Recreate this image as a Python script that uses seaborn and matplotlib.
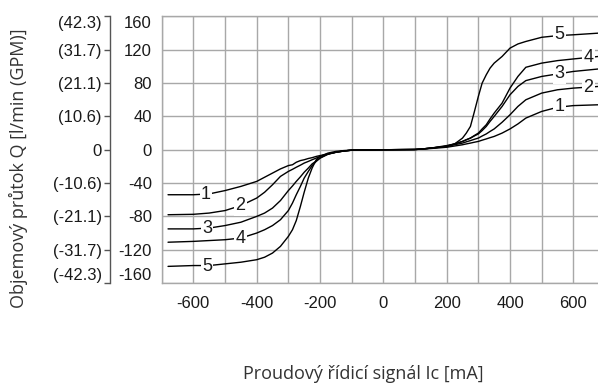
import pandas as pd
import matplotlib
matplotlib.use("Agg")
import matplotlib.pyplot as plt
import seaborn as sns

sns.set_theme(style="white")
plt.rcParams['font.family'] = ['Liberation Sans', 'DejaVu Sans']

# Control current Ic [mA] (shared grid for all curves)
ic_ma = [-680, -600, -550, -500, -450, -400, -375, -350, -325, -300, -287, -275, -262,
         -250, -237, -225, -212, -200, -175, -150, -125, -100, 0, 100, 125, 150, 175,
         200, 225, 250, 262, 275, 287, 300, 312, 325, 337, 350, 375, 400, 425, 450,
         500, 550, 600, 680]

# Flow Q [l/min] for curves 1..5
q1 = [-54, -54, -53, -49, -44, -38, -33, -28, -23, -19, -18, -15, -13,
      -12, -10.5, -9.5, -8, -7, -5, -3, -1.5, -0.5, 0, 0.3, 0.8, 1.5, 2.2,
      3, 4.5, 6, 7, 8, 9, 10, 11.5, 13, 14.5, 16, 20, 25, 31, 38,
      46, 51, 53, 54]
q2 = [-78, -77.5, -76, -73, -67, -58, -51, -42, -32, -26, -23.5, -21, -18.5,
      -16, -14, -12, -10, -8, -5, -3, -1.5, -0.5, 0, 0.3, 1, 2, 3,
      4, 6, 8, 9.5, 11, 12.5, 14, 16.5, 19, 22, 25, 33, 42, 52, 60,
      68, 72, 74, 76]
q3 = [-95, -95, -94, -91, -87, -80, -76, -70, -61, -49, -43.5, -38, -32.5,
      -27, -22, -17, -13.5, -10, -5.5, -3, -1.5, -0.5, 0, 0.3, 1, 2, 3,
      4.5, 7, 10, 12, 14, 16.5, 19, 23, 28, 34, 40, 52, 66, 76, 83,
      88, 91, 94, 97]
q4 = [-111, -110, -109, -108, -106, -100, -96, -91, -84, -73, -64, -54, -44,
      -34, -26, -19, -14, -10, -5, -3, -1.5, -0.5, 0, 0.3, 1, 2, 3.5,
      5, 7, 10, 12, 14, 17, 20, 25, 30, 37, 44, 56, 74, 88, 99,
      104, 107, 109, 112]
q5 = [-140, -139, -139, -137, -135, -132, -129, -124, -116, -104, -96, -85, -68,
      -51, -34, -22, -12, -8, -4, -2, -1, -0.5, 0, 0.3, 1, 2, 3,
      4, 7, 14, 20, 28, 45, 64, 80, 90, 98, 104, 112, 122, 127, 130,
      135, 137, 138, 140]

curve_names = ["1", "2", "3", "4", "5"]

# curve labels: (name, Ic, Q)
labels_neg = [("1", -560, -54), ("2", -452, -67), ("3", -557, -95),
              ("4", -452, -106), ("5", -557, -140)]
labels_pos = [("1", 557, 52), ("2", 647, 75), ("3", 557, 91),
              ("4", 647, 111), ("5", 557, 138)]

y_ticks = [160, 120, 80, 40, 0, -40, -80, -120, -160]
gpm_labels = ["(42.3)", "(31.7)", "(21.1)", "(10.6)", "0",
              "(-10.6)", "(-21.1)", "(-31.7)", "(-42.3)"]
x_ticks = [-600, -400, -200, 0, 200, 400, 600]

df = pd.DataFrame({
    "Ic": ic_ma * 5,
    "Q": q1 + q2 + q3 + q4 + q5,
    "curve": [n for n in curve_names for _ in ic_ma],
})

fig = plt.figure(figsize=(5.98, 3.83), dpi=100)
ax = fig.add_axes([0.2704, 0.261, 0.7413, 0.696])

grid_c = "#a8a8a8"
sns.lineplot(data=df, x="Ic", y="Q", hue="curve", palette=["black"] * 5,
             estimator=None, sort=False, linewidth=1.0, legend=False, ax=ax)

ax.set_xlim(-700, 700)
ax.set_ylim(-160, 160)
ax.set_xticks(range(-700, 701, 100), minor=True)
ax.set_xticks(x_ticks)
ax.set_xticklabels([str(t) for t in x_ticks])
ax.set_yticks(y_ticks)
ax.set_yticklabels([str(t) for t in y_ticks])
ax.grid(True, which="both", color=grid_c, linewidth=1.0)
ax.set_axisbelow(True)
ax.tick_params(axis="both", which="both", length=0, labelsize=12, colors="#1a1a1a")
ax.tick_params(axis="x", pad=9)
ax.tick_params(axis="y", pad=7)
for s in ["left", "bottom", "top"]:
    ax.spines[s].set_color(grid_c)
    ax.spines[s].set_linewidth(1.0)
ax.spines["right"].set_visible(False)

# keep first/last y labels inside the axis range
ylabs = ax.get_yticklabels()
ylabs[0].set_va("top")
ylabs[-1].set_va("bottom")

for name, x, y in labels_neg + labels_pos:
    ax.text(x, y, name, ha="center", va="center", fontsize=13, color="#1a1a1a",
            bbox=dict(facecolor="white", edgecolor="none", pad=1.0))

# secondary GPM axis
sec = ax.secondary_yaxis(-0.1166)
sec.set_yticks(y_ticks)
sec.set_yticklabels(gpm_labels)
sec.tick_params(length=4, width=1, color="#555555", labelsize=12,
                labelcolor="#1a1a1a", pad=2)
sec.spines["left"].set_color("#555555")
sec.spines["left"].set_linewidth(1.0)
slabs = sec.get_yticklabels()
slabs[0].set_va("top")
slabs[-1].set_va("bottom")

ax.set_xlabel("Proudový řídicí signál Ic [mA]", fontsize=13, color="#333333",
              family=["Open Sans", "DejaVu Sans"])
ax.xaxis.set_label_coords(0.454, -0.343)
ax.xaxis.label.set_va("center")
ax.set_ylabel("Objemový průtok Q [l/min (GPM)]", fontsize=13, color="#333333",
              family=["Open Sans", "DejaVu Sans"])
ax.yaxis.set_label_coords(-0.322, 0.4314)
ax.yaxis.label.set_va("center")

fig.savefig("out.png", dpi=100)
